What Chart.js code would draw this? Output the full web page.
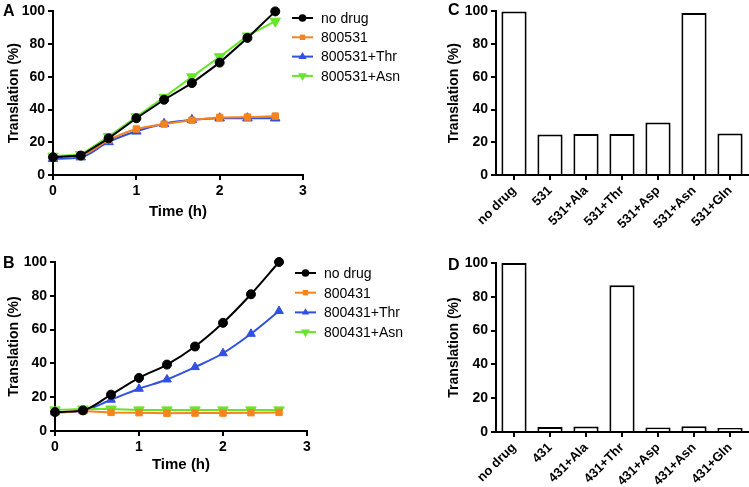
<!DOCTYPE html>
<html>
<head>
<meta charset="utf-8">
<script src="https://cdn.jsdelivr.net/npm/chart.js@4"></script>
<style>
  html, body { margin: 0; padding: 0; background: #fff; }
  body { width: 749px; height: 487px; position: relative; overflow: hidden; }
  .panel { position: absolute; }
</style>
</head>
<body>
<div class="panel" style="left:0;top:0;width:410px;height:240px"><canvas id="chartA"></canvas></div>
<div class="panel" style="left:0;top:245px;width:410px;height:242px"><canvas id="chartB"></canvas></div>
<div class="panel" style="left:410px;top:0;width:339px;height:250px"><canvas id="chartC"></canvas></div>
<div class="panel" style="left:410px;top:250px;width:339px;height:237px"><canvas id="chartD"></canvas></div>
<script>
const FONT = "'Liberation Sans', Arial, Helvetica, sans-serif";

// Time points (h)
const timeHours = [0, 0.333, 0.667, 1, 1.333, 1.667, 2, 2.333, 2.667];

// Panel A series (%)
const noDrugA = [10.9, 11.9, 22.4, 34.7, 46, 56.2, 68.7, 83.8, 100];
const drug531 = [10.9, 11.9, 21.4, 28.1, 31.1, 33.5, 35.2, 35.4, 36];
const drug531Thr = [9.9, 10.9, 20.2, 26.7, 31.3, 33.7, 34.7, 34.7, 34.7];
const drug531Asn = [11.5, 12.5, 23.5, 35.6, 47.5, 60, 72.3, 85, 94];

// Panel B series (%)
const noDrugB = [11.2, 12.2, 21.5, 31.4, 39.3, 50, 64, 80.9, 100];
const drug431 = [11, 11.8, 11, 10.8, 10.5, 10.6, 10.6, 10.8, 11];
const drug431Thr = [11, 12, 18.5, 25, 30.5, 37.8, 46, 57.5, 71];
const drug431Asn = [12.5, 13, 13, 12.5, 12.5, 12.5, 12.5, 12.5, 12.5];

// Panel C / D bars (%)
const labelsC = ['no drug', '531', '531+Ala', '531+Thr', '531+Asp', '531+Asn', '531+Gln'];
const valuesC = [100, 24.8, 25.1, 25.1, 32.1, 99, 25.3];
const labelsD = ['no drug', '431', '431+Ala', '431+Thr', '431+Asp', '431+Asn', '431+Gln'];
const valuesD = [100, 3, 3.2, 86.8, 2.6, 3.4, 2.4];

const yTicks = [0, 20, 40, 60, 80, 100];

// Colors
const BLACK = '#000000';
const ORANGE = '#f5841f';
const BLUE = '#3050e0';
const GREEN = '#66e62a';

function pts(xs, ys) {
    return xs.map((x, i) => ({ x: x, y: ys[i] }));
}

function series(label, data, color, style, radius, extra) {
    return Object.assign({
        label: label,
        data: data,
        borderColor: color,
        backgroundColor: color,
        borderWidth: 2,
        pointStyle: style,
        pointRadius: radius,
        pointHoverRadius: radius,
        pointBorderWidth: 1,
        tension: 0,
        clip: false
    }, extra || {});
}

// Draws a marker for the legend
function drawMarker(ctx, style, x, y, r, rotation, color) {
    ctx.save();
    ctx.fillStyle = color;
    ctx.translate(x, y);
    ctx.rotate((rotation || 0) * Math.PI / 180);
    ctx.beginPath();
    if (style === 'circle') {
        ctx.arc(0, 0, r, 0, Math.PI * 2);
    } else if (style === 'rect') {
        const s = r * Math.SQRT1_2;
        ctx.rect(-s, -s, 2 * s, 2 * s);
    } else if (style === 'triangle') {
        ctx.moveTo(0, -r);
        ctx.lineTo(r * 0.87, r * 0.5);
        ctx.lineTo(-r * 0.87, r * 0.5);
        ctx.closePath();
    }
    ctx.fill();
    ctx.restore();
}

// Custom legend + panel letter
const panelDecor = {
    id: 'panelDecor',
    afterDraw(chart, args, opts) {
        const ctx = chart.ctx;
        ctx.save();
        if (opts.letter) {
            ctx.fillStyle = '#000';
            ctx.font = 'bold 16px ' + FONT;
            ctx.textBaseline = 'middle';
            ctx.textAlign = 'left';
            ctx.fillText(opts.letter, opts.letterX, opts.letterY);
        }
        if (opts.legend) {
            const lg = opts.legend;
            chart.data.datasets.forEach((ds, i) => {
                const y = lg.y + i * lg.gap;
                ctx.strokeStyle = ds.borderColor;
                ctx.lineWidth = 2;
                ctx.beginPath();
                ctx.moveTo(lg.x, y);
                ctx.lineTo(lg.x + 21, y);
                ctx.stroke();
                drawMarker(ctx, ds.pointStyle, lg.x + 10.5, y, ds.pointRadius * 0.85, ds.rotation, ds.borderColor);
                ctx.fillStyle = '#000';
                ctx.font = '14px ' + FONT;
                ctx.textBaseline = 'middle';
                ctx.textAlign = 'left';
                ctx.fillText(ds.label, lg.x + 29, y + 1);
            });
        }
        ctx.restore();
    }
};

function axisCommon() {
    return {
        border: { color: '#000', width: 2 },
        grid: { display: true, drawOnChartArea: false, drawTicks: true, tickLength: 5, color: '#000', lineWidth: 2 },
        ticks: { color: '#000', padding: 3, font: { family: FONT, size: 14, weight: 'bold' } }
    };
}

function yAxis(width, titlePad) {
    const a = axisCommon();
    return Object.assign(a, {
        min: 0,
        max: 100,
        afterBuildTicks(scale) { scale.ticks = yTicks.map(v => ({ value: v })); },
        afterFit(scale) { scale.width = width; },
        title: {
            display: true, text: 'Translation (%)', color: '#000',
            padding: { top: titlePad, bottom: 0 },
            font: { family: FONT, size: 14, weight: 'bold' }
        }
    });
}

function lineChart(id, datasets, layout) {
    const xa = axisCommon();
    Object.assign(xa, {
        type: 'linear',
        min: 0,
        max: 3,
        ticks: Object.assign(xa.ticks, { stepSize: 1 }),
        afterFit(scale) { scale.height = layout.xHeight; },
        title: {
            display: true, text: 'Time (h)', color: '#000',
            padding: { top: 0, bottom: layout.xTitlePad },
            font: { family: FONT, size: 15, weight: 'bold' }
        }
    });
    return new Chart(document.getElementById(id), {
        type: 'line',
        data: { datasets: datasets },
        options: {
            responsive: true,
            maintainAspectRatio: false,
            animation: false,
            layout: { padding: { left: 0, top: layout.top, right: layout.right, bottom: 0 } },
            plugins: {
                legend: { display: false },
                tooltip: { enabled: false },
                panelDecor: layout.decor
            },
            scales: { x: xa, y: yAxis(layout.yWidth, 6) }
        },
        plugins: [panelDecor]
    });
}

function barChart(id, labels, values, layout) {
    const xa = axisCommon();
    Object.assign(xa, {
        type: 'category',
        grid: Object.assign(xa.grid, { offset: false }),
        ticks: Object.assign(xa.ticks, { autoSkip: false, minRotation: 45, maxRotation: 45, font: { family: FONT, size: 13, weight: 'bold' } }),
        afterFit(scale) { scale.height = layout.xHeight; }
    });
    return new Chart(document.getElementById(id), {
        type: 'bar',
        data: {
            labels: labels,
            datasets: [{
                data: values,
                backgroundColor: '#ffffff',
                borderColor: '#000000',
                borderWidth: 2,
                barPercentage: 0.7,
                categoryPercentage: 1,
                clip: false
            }]
        },
        options: {
            responsive: true,
            maintainAspectRatio: false,
            animation: false,
            layout: { padding: { left: 0, top: layout.top, right: 1, bottom: 0 } },
            plugins: {
                legend: { display: false },
                tooltip: { enabled: false },
                panelDecor: layout.decor
            },
            scales: { x: xa, y: yAxis(86, 36) }
        },
        plugins: [panelDecor]
    });
}

lineChart('chartA', [
    series('no drug', pts(timeHours, noDrugA), BLACK, 'circle', 4.5, { order: 0 }),
    series('800531', pts(timeHours, drug531), ORANGE, 'rect', 4.5, { order: 1, cubicInterpolationMode: 'monotone' }),
    series('800531+Thr', pts(timeHours, drug531Thr), BLUE, 'triangle', 5.5, { order: 3, cubicInterpolationMode: 'monotone' }),
    series('800531+Asn', pts(timeHours, drug531Asn), GREEN, 'triangle', 6, { order: 2, rotation: 180 })
], {
    top: 7, right: 107, yWidth: 53, xHeight: 65, xTitlePad: 19,
    decor: { letter: 'A', letterX: 3, letterY: 12, legend: { x: 292, y: 18, gap: 19.3 } }
});

lineChart('chartB', [
    series('no drug', pts(timeHours, noDrugB), BLACK, 'circle', 4.5, { order: 0, cubicInterpolationMode: 'monotone' }),
    series('800431', pts(timeHours, drug431), ORANGE, 'rect', 4.5, { order: 1 }),
    series('800431+Thr', pts(timeHours, drug431Thr), BLUE, 'triangle', 5, { order: 3, cubicInterpolationMode: 'monotone' }),
    series('800431+Asn', pts(timeHours, drug431Asn), GREEN, 'triangle', 6, { order: 2, rotation: 180 })
], {
    top: 17, right: 103, yWidth: 55, xHeight: 56, xTitlePad: 13,
    decor: { letter: 'B', letterX: 3, letterY: 19, legend: { x: 295, y: 28, gap: 19.7 } }
});

barChart('chartC', labelsC, valuesC, {
    top: 7, xHeight: 75,
    decor: { letter: 'C', letterX: 38, letterY: 11 }
});

barChart('chartD', labelsD, valuesD, {
    top: 13, xHeight: 55,
    decor: { letter: 'D', letterX: 38, letterY: 16 }
});
</script>
</body>
</html>
